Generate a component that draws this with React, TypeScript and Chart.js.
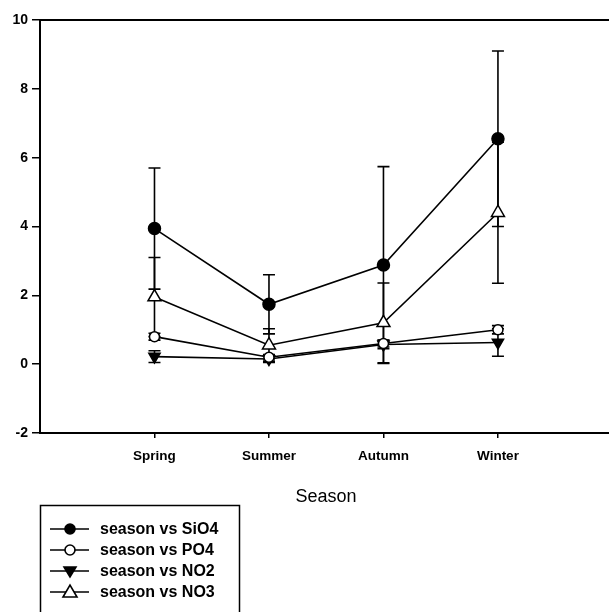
import React, { useEffect, useRef } from "react";
import { Chart, registerables } from "chart.js";

Chart.register(...registerables);

const categories = ["Spring", "Summer", "Autumn", "Winter"];
const sio4 = [3.94, 1.74, 2.88, 6.55];
const sio4Err = [1.76, 0.86, 2.86, 2.55];
const po4 = [0.8, 0.2, 0.6, 1.0];
const po4Err = [0.1, 0.08, 0.1, 0.12];
const no2 = [0.22, 0.15, 0.57, 0.63];
const no2Err = [0.17, 0.1, 0.12, 0.4];
const no3 = [1.95, 0.55, 1.2, 4.4];
const no3Err = [1.15, 0.48, 1.16, 2.05];
const seriesNames = ["season vs SiO4", "season vs PO4", "season vs NO2", "season vs NO3"];
const yTicks = [-2, 0, 2, 4, 6, 8, 10];
const xTitle = "Season";

const FONT = "'Liberation Sans', Arial, sans-serif";

const toPts = (arr: number[]) => arr.map((v, i) => ({ x: i + 1, y: v }));

export default function App() {
  const ref = useRef<HTMLCanvasElement | null>(null);
  useEffect(() => {
    if (!ref.current) return;
    const errs = [sio4Err, po4Err, no2Err, no3Err];
    const vals = [sio4, po4, no2, no3];

    const errorPlugin = {
      id: "errbars",
      beforeDatasetsDraw(chart: any) {
        const { ctx, scales } = chart;
        const xs = scales.x, ys = scales.y;
        ctx.save();
        ctx.strokeStyle = "#000";
        ctx.lineWidth = 1.6;
        vals.forEach((arr, si) => {
          arr.forEach((v, i) => {
            const e = errs[si][i];
            const px = xs.getPixelForValue(i + 1);
            const top = ys.getPixelForValue(v + e);
            const bot = ys.getPixelForValue(v - e);
            ctx.beginPath();
            ctx.moveTo(px, top);
            ctx.lineTo(px, bot);
            ctx.moveTo(px - 6, top);
            ctx.lineTo(px + 6, top);
            ctx.moveTo(px - 6, bot);
            ctx.lineTo(px + 6, bot);
            ctx.stroke();
          });
        });
        ctx.restore();
      },
      afterDraw(chart: any) {
        const { ctx, chartArea } = chart;
        ctx.save();
        ctx.strokeStyle = "#000";
        ctx.lineWidth = 2;
        ctx.beginPath();
        ctx.moveTo(chartArea.left, chartArea.top);
        ctx.lineTo(chartArea.right, chartArea.top);
        ctx.stroke();
        // x title
        ctx.fillStyle = "#000";
        ctx.font = `18px ${FONT}`;
        ctx.textAlign = "center";
        ctx.textBaseline = "middle";
        ctx.fillText(xTitle, 326, 497);
        // legend
        ctx.lineWidth = 1.5;
        ctx.strokeRect(40.5, 505.5, 199, 120);
        ctx.font = `bold 16px ${FONT}`;
        ctx.textAlign = "left";
        chart.data.datasets.forEach((ds: any, i: number) => {
          const y = 529 + i * 21;
          ctx.lineWidth = 1.6;
          ctx.beginPath();
          ctx.moveTo(50, y);
          ctx.lineTo(89, y);
          ctx.stroke();
          ctx.fillStyle = ds.pointBackgroundColor;
          ctx.beginPath();
          const cx = 70;
          if (ds.pointStyle === "circle") {
            ctx.arc(cx, y, 5, 0, Math.PI * 2);
          } else if (ds.pointRotation === 180) {
            ctx.moveTo(cx - 6, y - 4);
            ctx.lineTo(cx + 6, y - 4);
            ctx.lineTo(cx, y + 6);
            ctx.closePath();
          } else {
            ctx.moveTo(cx - 7, y + 5);
            ctx.lineTo(cx + 7, y + 5);
            ctx.lineTo(cx, y - 7);
            ctx.closePath();
          }
          ctx.fill();
          ctx.stroke();
          ctx.fillStyle = "#000";
          ctx.fillText(ds.label, 100, y + 1);
        });
        ctx.restore();
      },
    };

    const base = {
      borderColor: "#000",
      borderWidth: 1.6,
      pointBorderColor: "#000",
      pointBorderWidth: 1.5,
      showLine: true,
      fill: false,
      tension: 0,
    };

    const chart = new Chart(ref.current, {
      type: "scatter",
      data: {
        datasets: [
          { ...base, label: seriesNames[0], data: toPts(sio4), pointStyle: "circle", pointRadius: 6, pointBackgroundColor: "#000" },
          { ...base, label: seriesNames[1], data: toPts(po4), pointStyle: "circle", pointRadius: 5, pointBackgroundColor: "#fff" },
          { ...base, label: seriesNames[2], data: toPts(no2), pointStyle: "triangle", pointRotation: 180, pointRadius: 6.5, pointBackgroundColor: "#000" },
          { ...base, label: seriesNames[3], data: toPts(no3), pointStyle: "triangle", pointRadius: 7.5, pointBackgroundColor: "#fff" },
        ] as any,
      },
      options: {
        animation: false,
        responsive: false,
        maintainAspectRatio: false,
        layout: { autoPadding: false, padding: { top: 20, right: 0, left: 0, bottom: 0 } },
        plugins: { legend: { display: false }, tooltip: { enabled: false } },
        scales: {
          x: {
            type: "linear",
            min: 0,
            max: 4.97,
            afterFit: (s: any) => { s.height = 179; s.paddingRight = 0; s.paddingLeft = 0; },
            afterBuildTicks: (s: any) => { s.ticks = [1, 2, 3, 4].map((v) => ({ value: v })); },
            ticks: {
              color: "#000",
              font: { family: FONT, size: 13.5, weight: "bold" },
              padding: 10,
              maxRotation: 0,
              autoSkip: false,
              callback: (v: any) => categories[Number(v) - 1] ?? "",
            },
            grid: { drawOnChartArea: false, drawTicks: true, tickLength: 5, color: "#000", lineWidth: 1.5 },
            border: { color: "#000", width: 2 },
          },
          y: {
            min: -2,
            max: 10,
            afterFit: (s: any) => { s.width = 40; },
            afterBuildTicks: (s: any) => { s.ticks = yTicks.map((v) => ({ value: v })); },
            ticks: {
              color: "#000",
              font: { family: FONT, size: 14, weight: "bold" },
              padding: 4,
            },
            grid: { drawOnChartArea: false, drawTicks: true, tickLength: 8, color: "#000", lineWidth: 1.5 },
            border: { color: "#000", width: 2 },
          },
        },
      } as any,
      plugins: [errorPlugin],
    });
    return () => chart.destroy();
  }, []);

  return (
    <div style={{ position: "fixed", left: 0, top: 0, width: 609, height: 612, background: "#fff" }}>
      <canvas ref={ref} width={609} height={612} style={{ width: 609, height: 612, display: "block" }} />
    </div>
  );
}
